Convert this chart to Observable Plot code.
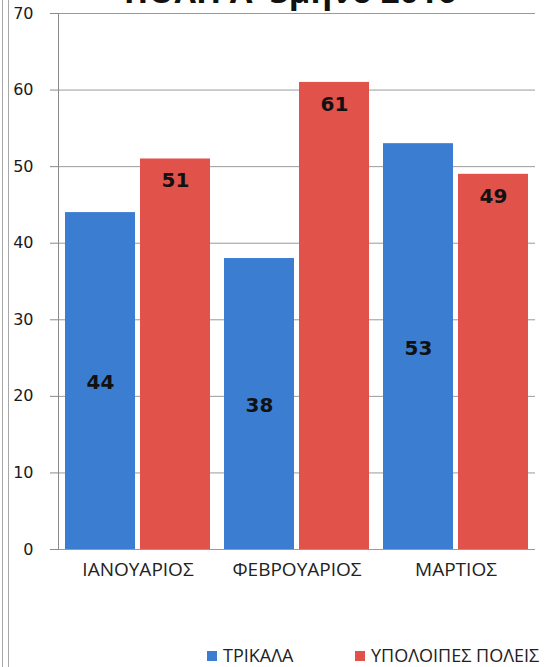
<!DOCTYPE html>
<html>
<head>
<meta charset="utf-8">
<script src="https://cdn.jsdelivr.net/npm/d3@7"></script>
<script src="https://cdn.jsdelivr.net/npm/@observablehq/plot@0.6"></script>
<style>
  html, body { margin: 0; padding: 0; background: #fff; }
  #wrap { position: relative; width: 556px; height: 667px; overflow: hidden; background: #fff; }
  #border { position: absolute; left: 2px; top: 0; width: 5px; height: 667px;
            border-left: 1px solid #a8a8a8; border-right: 1px solid #a8a8a8; }
  #title { position: absolute; left: 0; top: -26px; width: 580px; text-align: center;
           font-family: "Open Sans", sans-serif; font-weight: 700; font-size: 33px; line-height: 33px; color: #111; }
  #chart { position: absolute; left: 0; top: 0; }
  #legend { position: absolute; top: 644px; left: 0; width: 556px; height: 22px;
            font-family: "Open Sans", sans-serif; font-size: 18px; color: #222; }
  .item { position: absolute; top: 0; white-space: nowrap; line-height: 22px; }
  .sw { display: inline-block; width: 10px; height: 10px; margin-right: 6px; vertical-align: 1px; }
</style>
</head>
<body>
<div id="wrap">
  <div id="border"></div>
  <div id="title"></div>
  <div id="chart"></div>
  <div id="legend"></div>
</div>
<script>
const title = "ΠΟΛΗ Α' 3μηνο 2016";
const months = ["ΙΑΝΟΥΑΡΙΟΣ", "ΦΕΒΡΟΥΑΡΙΟΣ", "ΜΑΡΤΙΟΣ"];
const series = ["ΤΡΙΚΑΛΑ", "ΥΠΟΛΟΙΠΕΣ ΠΟΛΕΙΣ"];
const trikala = [44, 38, 53];
const others = [51, 61, 49];
const yTicks = [0, 10, 20, 30, 40, 50, 60, 70];
const colors = ["#3b7dd1", "#e1524a"];

const data = months.flatMap((m, i) => [
  {month: m, series: series[0], value: trikala[i]},
  {month: m, series: series[1], value: others[i]}
]);

document.getElementById("title").textContent = title;

const chart = Plot.plot({
  width: 556,
  height: 600,
  marginLeft: 58,
  marginRight: 21,
  marginTop: 13,
  marginBottom: 51,
  style: {fontFamily: "Open Sans, sans-serif", fontSize: "16px", color: "#222", background: "transparent"},
  fx: {domain: months, padding: 0, label: null, axis: null},
  x: {domain: series, paddingInner: 0.066, paddingOuter: 0.083, axis: null},
  y: {domain: [0, 70], axis: null},
  color: {domain: series, range: colors},
  marks: [
    Plot.ruleY(yTicks, {stroke: "#9a9a9a", strokeWidth: 1}),
    Plot.frame({anchor: "left", facetAnchor: "left", stroke: "#8a8a8a"}),
    Plot.barY(data, {fx: "month", x: "series", y: "value", fill: "series"}),
    Plot.axisY({ticks: yTicks, tickSize: 8, tickPadding: 17, label: null, stroke: "#8a8a8a",
                fontFamily: "DejaVu Sans, sans-serif", fontSize: 16, fill: "#1a1a1a"}),
    Plot.axisFx({anchor: "bottom", label: null, tickSize: 0, tickPadding: 13,
                 fontFamily: "Open Sans, sans-serif", fontSize: 19, fill: "#222"}),
    Plot.text(data.filter(d => d.series === series[0]), {
      fx: "month", x: "series", y: d => d.value / 2, dy: 2, text: "value",
      fontFamily: "DejaVu Sans, sans-serif", fontWeight: "bold", fontSize: 20, fill: "#111"
    }),
    Plot.text(data.filter(d => d.series === series[1]), {
      fx: "month", x: "series", y: "value", dy: 22, text: "value",
      fontFamily: "DejaVu Sans, sans-serif", fontWeight: "bold", fontSize: 20, fill: "#111"
    })
  ]
});
document.getElementById("chart").appendChild(chart);

const legend = document.getElementById("legend");
const legendX = [207, 355];
series.forEach((s, i) => {
  const item = document.createElement("div");
  item.className = "item";
  item.style.left = legendX[i] + "px";
  const sw = document.createElement("span");
  sw.className = "sw";
  sw.style.background = colors[i];
  item.appendChild(sw);
  item.appendChild(document.createTextNode(s));
  legend.appendChild(item);
});
</script>
</body>
</html>
